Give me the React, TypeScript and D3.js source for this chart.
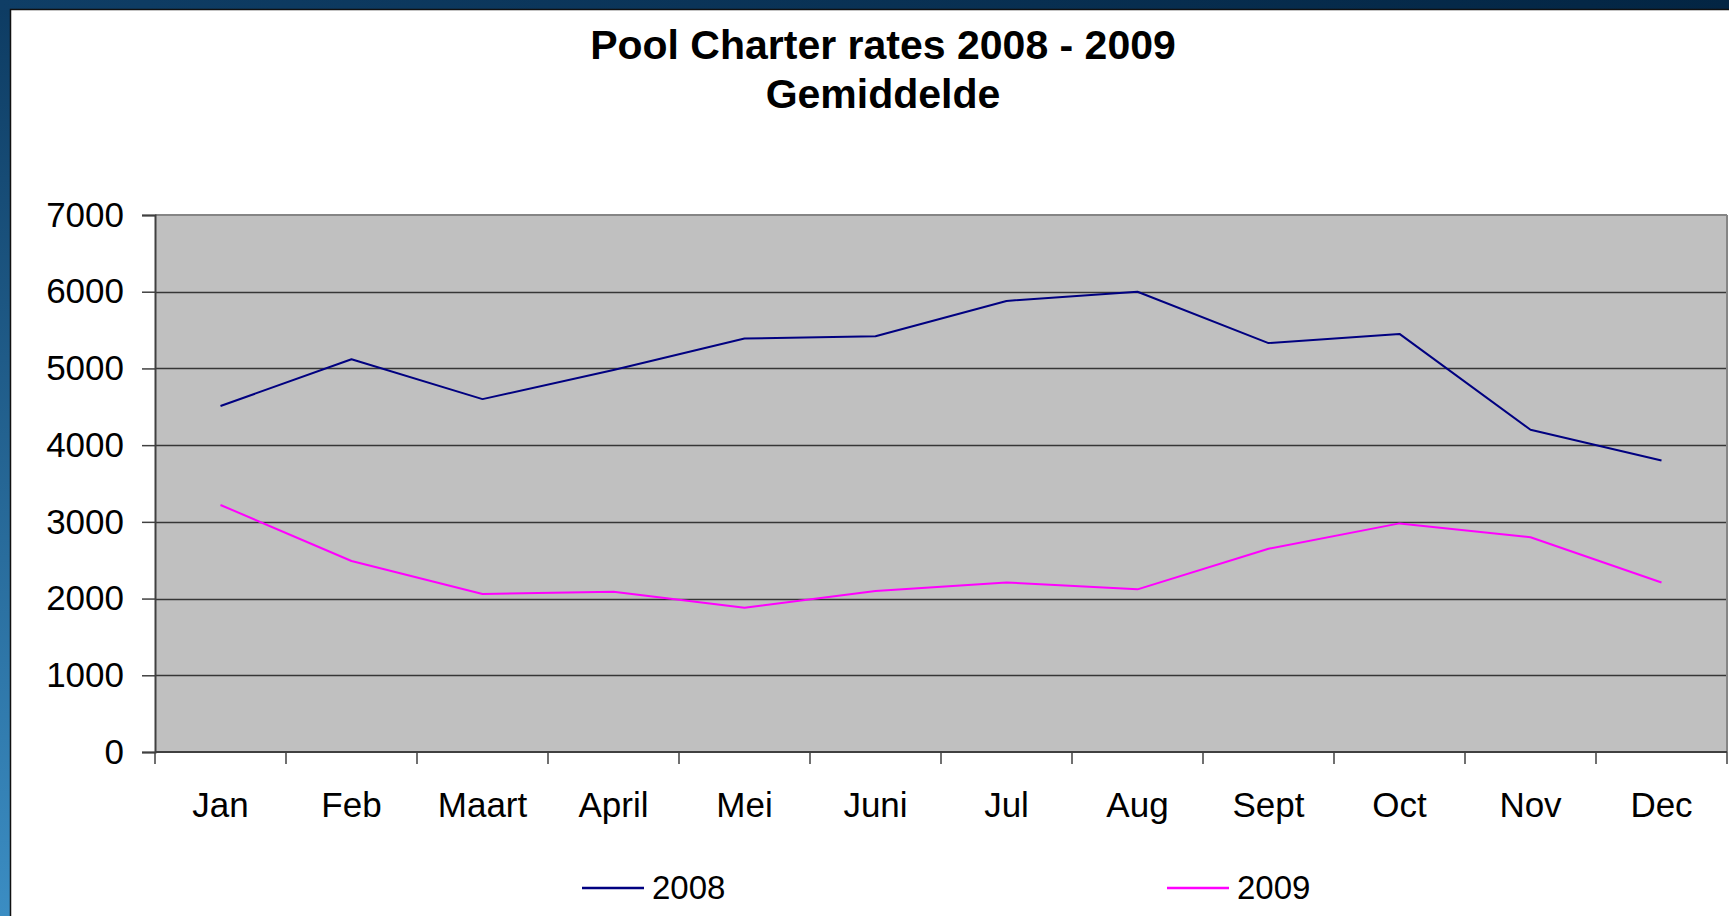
import React, { useEffect, useRef } from 'react';
import * as d3 from 'd3';

const months = ['Jan', 'Feb', 'Maart', 'April', 'Mei', 'Juni', 'Jul', 'Aug', 'Sept', 'Oct', 'Nov', 'Dec'];
const rates2008 = [4510, 5120, 4600, 4980, 5390, 5420, 5880, 6000, 5330, 5450, 4200, 3800];
const rates2009 = [3220, 2490, 2060, 2090, 1880, 2100, 2210, 2120, 2650, 2980, 2800, 2210];
const yTicks = [0, 1000, 2000, 3000, 4000, 5000, 6000, 7000];
const seriesNames = ['2008', '2009'];

const W = 1729;
const H = 916;
const FONT = '"Liberation Sans", Arial, sans-serif';

const App: React.FC = () => {
  const svgRef = useRef<SVGSVGElement>(null);

  useEffect(() => {
    if (!svgRef.current) return;
    const svg = d3.select(svgRef.current);
    svg.selectAll('*').remove();

    const margin = { top: 215, right: 2, bottom: 164, left: 155 };
    const x0 = margin.left;
    const x1 = W - margin.right;
    const y0 = H - margin.bottom;
    const y1 = margin.top;

    // background: blue frame + white panel
    const defs = svg.append('defs');
    const vg = defs.append('linearGradient').attr('id', 'bgv').attr('x1', 0).attr('y1', 0).attr('x2', 0).attr('y2', 1);
    vg.append('stop').attr('offset', '0%').attr('stop-color', '#0d3b62');
    vg.append('stop').attr('offset', '100%').attr('stop-color', '#3b8dc3');
    const hg = defs.append('linearGradient').attr('id', 'bgh').attr('x1', 0).attr('y1', 0).attr('x2', 1).attr('y2', 0);
    hg.append('stop').attr('offset', '0%').attr('stop-color', '#0f3e66');
    hg.append('stop').attr('offset', '100%').attr('stop-color', '#032543');

    svg.append('rect').attr('width', W).attr('height', H).attr('fill', 'url(#bgv)');
    svg.append('rect').attr('width', W).attr('height', 10).attr('fill', 'url(#bgh)');
    svg.append('rect')
      .attr('x', 10.5).attr('y', 9.5)
      .attr('width', W).attr('height', H)
      .attr('fill', '#ffffff')
      .attr('stroke', '#111').attr('stroke-width', 1.5);

    // title
    const title = svg.append('text')
      .attr('text-anchor', 'middle')
      .attr('font-family', FONT)
      .attr('font-weight', 'bold')
      .attr('font-size', 41)
      .attr('fill', '#000');
    title.append('tspan').attr('x', 883).attr('y', 59).text('Pool Charter rates 2008 - 2009');
    title.append('tspan').attr('x', 883).attr('y', 108).text('Gemiddelde');

    const xScale = d3.scaleBand<string>().domain(months).range([x0, x1]).padding(0);
    const yScale = d3.scaleLinear().domain([0, 7000]).range([y0, y1]);
    const cx = (m: string) => (xScale(m) || 0) + xScale.bandwidth() / 2;

    // plot area
    svg.append('rect')
      .attr('x', x0).attr('y', y1)
      .attr('width', x1 - x0).attr('height', y0 - y1)
      .attr('fill', '#c0c0c0');

    // gridlines
    svg.append('g')
      .selectAll('line')
      .data(yTicks.filter(t => t > 0 && t < 7000))
      .enter()
      .append('line')
      .attr('x1', x0).attr('x2', x1)
      .attr('y1', d => Math.round(yScale(d)) + 0.5)
      .attr('y2', d => Math.round(yScale(d)) + 0.5)
      .attr('stroke', '#363636')
      .attr('stroke-width', 1.3);

    // frame top/right
    svg.append('line').attr('x1', x0).attr('x2', x1).attr('y1', y1).attr('y2', y1)
      .attr('stroke', '#858585').attr('stroke-width', 2);
    svg.append('line').attr('x1', x1).attr('x2', x1).attr('y1', y1).attr('y2', y0)
      .attr('stroke', '#858585').attr('stroke-width', 2);

    // Y axis
    const yAxis = d3.axisLeft(yScale).tickValues(yTicks).tickSize(13).tickPadding(18).tickFormat(d => String(d));
    const yg = svg.append('g').attr('transform', `translate(${x0},0)`).call(yAxis);
    yg.select('.domain').attr('stroke', '#404040').attr('stroke-width', 2);
    yg.selectAll('.tick line').attr('stroke', '#404040').attr('stroke-width', 1.5);
    yg.selectAll('.tick text')
      .attr('font-family', FONT).attr('font-size', 35).attr('fill', '#000');

    // X axis
    const xg = svg.append('g').attr('transform', `translate(0,${y0})`);
    xg.append('line').attr('x1', x0).attr('x2', x1).attr('y1', 0).attr('y2', 0)
      .attr('stroke', '#404040').attr('stroke-width', 2);
    const boundaries = months.map(m => xScale(m) || 0).concat([x1]);
    xg.selectAll('line.tk')
      .data(boundaries)
      .enter()
      .append('line')
      .attr('class', 'tk')
      .attr('x1', d => d).attr('x2', d => d)
      .attr('y1', 0).attr('y2', 12)
      .attr('stroke', '#404040').attr('stroke-width', 1.5);
    xg.selectAll('text')
      .data(months)
      .enter()
      .append('text')
      .attr('x', d => cx(d))
      .attr('y', 65)
      .attr('text-anchor', 'middle')
      .attr('font-family', FONT)
      .attr('font-size', 35)
      .attr('fill', '#000')
      .text(d => d);

    // lines
    const line = d3.line<number>()
      .x((_d, i) => cx(months[i]))
      .y(d => yScale(d));

    const series = [
      { name: seriesNames[0], values: rates2008, color: '#000080' },
      { name: seriesNames[1], values: rates2009, color: '#ff00ff' },
    ];

    series.forEach(s => {
      svg.append('path')
        .datum(s.values)
        .attr('d', line)
        .attr('fill', 'none')
        .attr('stroke', s.color)
        .attr('stroke-width', 2)
        .attr('stroke-linejoin', 'round');
    });

    // legend
    const legendX = [582, 1167];
    const lg = svg.append('g');
    series.forEach((s, i) => {
      lg.append('line')
        .attr('x1', legendX[i]).attr('x2', legendX[i] + 62)
        .attr('y1', 888).attr('y2', 888)
        .attr('stroke', s.color).attr('stroke-width', 2.5);
      lg.append('text')
        .attr('x', legendX[i] + 70)
        .attr('y', 899)
        .attr('font-family', FONT)
        .attr('font-size', 33)
        .attr('fill', '#000')
        .text(s.name);
    });
  }, []);

  return (
    <div style={{ position: 'absolute', left: 0, top: 0, width: W, height: H, overflow: 'hidden' }}>
      <svg ref={svgRef} width={W} height={H} style={{ display: 'block' }} />
    </div>
  );
};

export default App;
